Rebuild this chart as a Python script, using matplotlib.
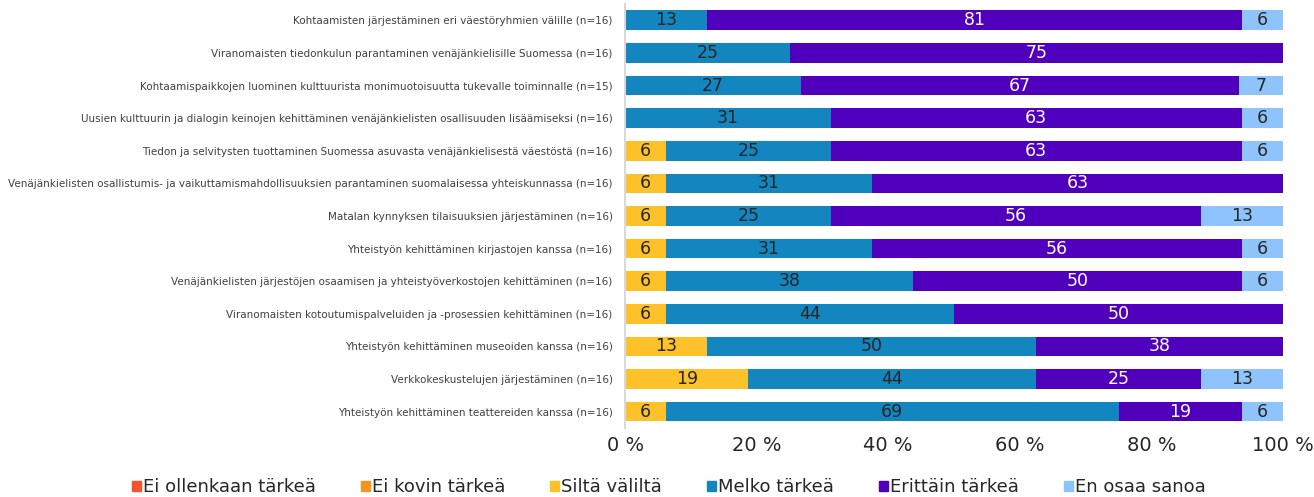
import numpy as np
from matplotlib import pyplot as plt
from matplotlib.patches import Patch

categories = [
    "Kohtaamisten järjestäminen eri väestöryhmien välille (n=16)",
    "Viranomaisten tiedonkulun parantaminen venäjänkielisille Suomessa (n=16)",
    "Kohtaamispaikkojen luominen kulttuurista monimuotoisuutta tukevalle toiminnalle (n=15)",
    "Uusien kulttuurin ja dialogin keinojen kehittäminen venäjänkielisten osallisuuden lisäämiseksi (n=16)",
    "Tiedon ja selvitysten tuottaminen Suomessa asuvasta venäjänkielisestä väestöstä (n=16)",
    "Venäjänkielisten osallistumis- ja vaikuttamismahdollisuuksien parantaminen suomalaisessa yhteiskunnassa (n=16)",
    "Matalan kynnyksen tilaisuuksien järjestäminen (n=16)",
    "Yhteistyön kehittäminen kirjastojen kanssa (n=16)",
    "Venäjänkielisten järjestöjen osaamisen ja yhteistyöverkostojen kehittäminen (n=16)",
    "Viranomaisten kotoutumispalveluiden ja -prosessien kehittäminen (n=16)",
    "Yhteistyön kehittäminen museoiden kanssa (n=16)",
    "Verkkokeskustelujen järjestäminen (n=16)",
    "Yhteistyön kehittäminen teattereiden kanssa (n=16)",
]

series_names = ["Ei ollenkaan tärkeä", "Ei kovin tärkeä", "Siltä väliltä",
                "Melko tärkeä", "Erittäin tärkeä", "En osaa sanoa"]

# percentages (labels are shown rounded)
ei_ollenkaan = [0, 0, 0, 0, 0, 0, 0, 0, 0, 0, 0, 0, 0]
ei_kovin = [0, 0, 0, 0, 0, 0, 0, 0, 0, 0, 0, 0, 0]
silta_valilta = [0, 0, 0, 0, 6.25, 6.25, 6.25, 6.25, 6.25, 6.25, 12.5, 18.75, 6.25]
melko = [12.5, 25, 26.67, 31.25, 25, 31.25, 25, 31.25, 37.5, 43.75, 50, 43.75, 68.75]
erittain = [81.25, 75, 66.67, 62.5, 62.5, 62.5, 56.25, 56.25, 50, 50, 37.5, 25, 18.75]
eos = [6.25, 0, 6.67, 6.25, 6.25, 0, 12.5, 6.25, 6.25, 0, 0, 12.5, 6.25]

colors = ["#F4532B", "#F7941D", "#FDC12A", "#1386C0", "#5000BC", "#8EC4FB"]
text_colors = ["#262626", "#262626", "#262626", "#262626", "white", "#262626"]

series = [ei_ollenkaan, ei_kovin, silta_valilta, melko, erittain, eos]

fig = plt.figure(figsize=(13.14, 4.97), dpi=100)
ax = fig.add_axes([0.4757, 0.139, 0.5007, 0.853])

y = np.arange(len(categories))
left = np.zeros(len(categories))
for vals, col, tcol in zip(series, colors, text_colors):
    vals = np.array(vals, dtype=float)
    ax.barh(y, vals, left=left, height=0.6, color=col)
    for yi, v, l in zip(y, vals, left):
        if v > 0:
            ax.text(l + v / 2, yi, f"{int(np.floor(v + 0.5))}", ha="center",
                    va="center", fontsize=12.5, color=tcol)
    left += vals

ax.set_xlim(0, 100)
ax.set_ylim(len(categories) - 0.5, -0.5)
ax.set_yticks(y)
ax.set_yticklabels(categories, fontsize=7.5, color="#404040")
ax.set_xticks([0, 20, 40, 60, 80, 100])
ax.set_xticklabels(["0 %", "20 %", "40 %", "60 %", "80 %", "100 %"],
                   fontsize=14, color="#262626")
ax.tick_params(axis="both", length=0)
ax.tick_params(axis="x", pad=6)
ax.tick_params(axis="y", pad=9)
for s in ["top", "right", "bottom"]:
    ax.spines[s].set_visible(False)
ax.spines["left"].set_color("#D9D9D9")
ax.spines["left"].set_linewidth(1.5)

handles = [Patch(color=c) for c in colors]
fig.legend(handles, series_names, loc="center", bbox_to_anchor=(0.509, 0.02),
           ncol=6, frameon=False, fontsize=13, handlelength=0.5,
           handleheight=0.5, handletextpad=0.1, columnspacing=2.5,
           labelcolor="#262626")

plt.savefig("out.png", dpi=100)
